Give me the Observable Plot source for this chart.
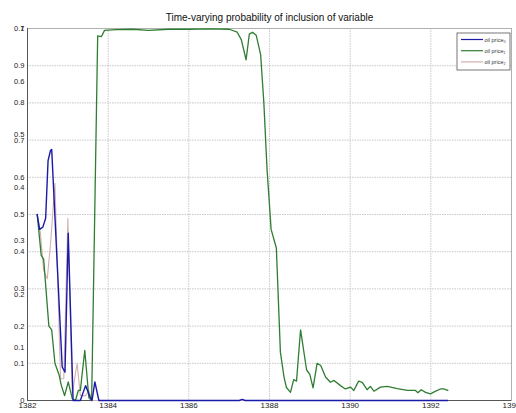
<!DOCTYPE html>
<html>
<head>
<meta charset="utf-8">
<script src="https://cdn.jsdelivr.net/npm/d3@7"></script>
<script src="https://cdn.jsdelivr.net/npm/@observablehq/plot@0.6"></script>
<style>
  html, body { margin: 0; padding: 0; background: #fff; }
  #chart svg { display: block; font-family: "Liberation Sans", Arial, sans-serif; }
</style>
</head>
<body>
<div id="chart"></div>
<script>
const titleText = "Time-varying probability of inclusion of variable";
const seriesNames = ["oil price\u2080", "oil price\u2081", "oil price\u2082"];
const seriesColors = ["#1a1aa8", "#2f7d32", "#d4b0b0"];

const xTicks = [1382, 1384, 1386, 1388, 1390, 1392, 1394];
const yTicksPrimary = [0, 0.1, 0.2, 0.3, 0.4, 0.5, 0.6, 0.7, 0.8, 0.9, 1];
const yTicksSecondary = [0.1, 0.2, 0.3, 0.4, 0.5, 0.6, 0.7];
const secondaryMax = 0.7;

// oil price_0 (blue)
const blueT = [1382.24, 1382.30, 1382.38, 1382.45, 1382.51, 1382.57, 1382.60, 1382.86, 1382.93, 1383.01, 1383.13, 1383.31, 1383.44, 1383.55, 1383.60, 1383.67, 1383.77, 1387.25, 1387.32, 1387.40, 1392.42];
const blueV = [0.50, 0.46, 0.466, 0.49, 0.645, 0.672, 0.675, 0.09, 0.076, 0.45, 0.0, 0.0, 0.04, 0.01, 0.0, 0.05, 0.0, 0.0, 0.003, 0.0, 0.0];

// oil price_1 (green)
const greenT = [1382.24, 1382.34, 1382.40, 1382.53, 1382.60, 1382.68, 1382.78, 1382.84, 1382.92, 1383.01, 1383.11, 1383.19, 1383.26, 1383.31, 1383.42, 1383.52, 1383.59, 1383.74, 1383.83, 1383.91, 1384.2, 1384.6, 1385.0, 1385.5, 1386.0, 1386.5, 1387.0, 1387.2, 1387.3, 1387.42, 1387.5, 1387.58, 1387.67, 1387.78, 1387.86, 1387.94, 1388.04, 1388.17, 1388.27, 1388.36, 1388.42, 1388.52, 1388.60, 1388.67, 1388.77, 1388.92, 1389.00, 1389.08, 1389.18, 1389.27, 1389.39, 1389.51, 1389.60, 1389.76, 1389.88, 1390.01, 1390.09, 1390.21, 1390.30, 1390.42, 1390.50, 1390.59, 1390.75, 1390.92, 1391.17, 1391.42, 1391.62, 1391.68, 1391.76, 1391.87, 1391.99, 1392.12, 1392.24, 1392.32, 1392.42];
const greenV = [0.50, 0.39, 0.38, 0.20, 0.19, 0.10, 0.07, 0.04, 0.013, 0.05, 0.005, 0.0, 0.027, 0.027, 0.135, 0.008, 0.0, 0.98, 0.978, 0.995, 0.997, 0.998, 0.995, 0.998, 0.998, 0.999, 0.998, 0.99, 0.97, 0.916, 0.985, 0.99, 0.982, 0.93, 0.80, 0.62, 0.46, 0.41, 0.13, 0.063, 0.035, 0.022, 0.056, 0.052, 0.19, 0.082, 0.07, 0.034, 0.10, 0.094, 0.063, 0.049, 0.054, 0.04, 0.031, 0.036, 0.027, 0.052, 0.049, 0.029, 0.038, 0.025, 0.036, 0.038, 0.032, 0.027, 0.027, 0.021, 0.029, 0.022, 0.018, 0.025, 0.031, 0.031, 0.027];

// oil price_2 (light brown)
const brownT = [1382.24, 1382.32, 1382.40, 1382.49, 1382.57, 1382.68, 1382.82, 1382.90, 1383.00, 1383.11, 1383.23, 1383.31, 1383.44, 1383.52, 1383.60, 1392.42];
const brownV = [0.50, 0.45, 0.35, 0.327, 0.42, 0.584, 0.058, 0.059, 0.49, 0.018, 0.10, 0.013, 0.013, 0.027, 0.0, 0.0];

const toRows = (T, V) => T.map((t, i) => ({t, v: V[i]}));
const blue = toRows(blueT, blueV);
const green = toRows(greenT, greenV);
const brown = toRows(brownT, brownV);

const fontFam = "Liberation Sans, Arial, sans-serif";

const chart = Plot.plot({
  width: 516,
  height: 413,
  marginLeft: 27,
  marginRight: 5,
  marginTop: 28,
  marginBottom: 13,
  style: {fontFamily: fontFam, background: "#fff", overflow: "hidden"},
  x: {domain: [1382, 1394]},
  y: {domain: [0, 1]},
  marks: [
    Plot.gridX(xTicks, {stroke: "#c8c8c8", strokeOpacity: 1, strokeDasharray: "1.5,1"}),
    Plot.gridY(yTicksPrimary, {stroke: "#c8c8c8", strokeOpacity: 1, strokeDasharray: "1.5,1"}),
    Plot.frame({stroke: "#b0b0b0"}),
    Plot.ruleX([1382], {stroke: "#555"}),
    Plot.ruleY([0], {stroke: "#555"}),
    Plot.axisX(xTicks, {tickSize: 0, tickPadding: 2, fontSize: 8, tickFormat: d => String(d), fill: "#222", label: null}),
    Plot.axisY(yTicksPrimary, {tickSize: 0, tickPadding: 3, fontSize: 7.5, tickFormat: d => String(d), fill: "#222", label: null}),
    Plot.text(yTicksSecondary, {y: d => d / secondaryMax, text: d => String(d), frameAnchor: "left", dx: -3, textAnchor: "end", fontSize: 7.5, fill: "#222"}),
    Plot.line(brown, {x: "t", y: "v", stroke: seriesColors[2], strokeWidth: 1.1}),
    Plot.line(green, {x: "t", y: "v", stroke: seriesColors[1], strokeWidth: 1.3}),
    Plot.line(blue, {x: "t", y: "v", stroke: seriesColors[0], strokeWidth: 1.4}),
    Plot.text([titleText], {frameAnchor: "top", dy: -15, fontSize: 10, fill: "#111"})
  ]
});

// Legend box (top-right inside the axes)
const svg = d3.select(chart);
const lg = svg.append("g").attr("transform", "translate(457,33)");
lg.append("rect").attr("width", 53).attr("height", 37).attr("fill", "#fff").attr("stroke", "#555").attr("stroke-width", 0.8);
seriesNames.forEach((name, i) => {
  const yy = 6.5 + i * 11.2;
  lg.append("line").attr("x1", 4).attr("x2", 26).attr("y1", yy).attr("y2", yy)
    .attr("stroke", seriesColors[i]).attr("stroke-width", 1.2);
  lg.append("text").attr("x", 27.5).attr("y", yy + 2).attr("font-size", 5.5)
    .attr("text-anchor", "start")
    .attr("font-family", fontFam).attr("fill", "#333").text(name);
});

document.getElementById("chart").appendChild(chart);
</script>
</body>
</html>
